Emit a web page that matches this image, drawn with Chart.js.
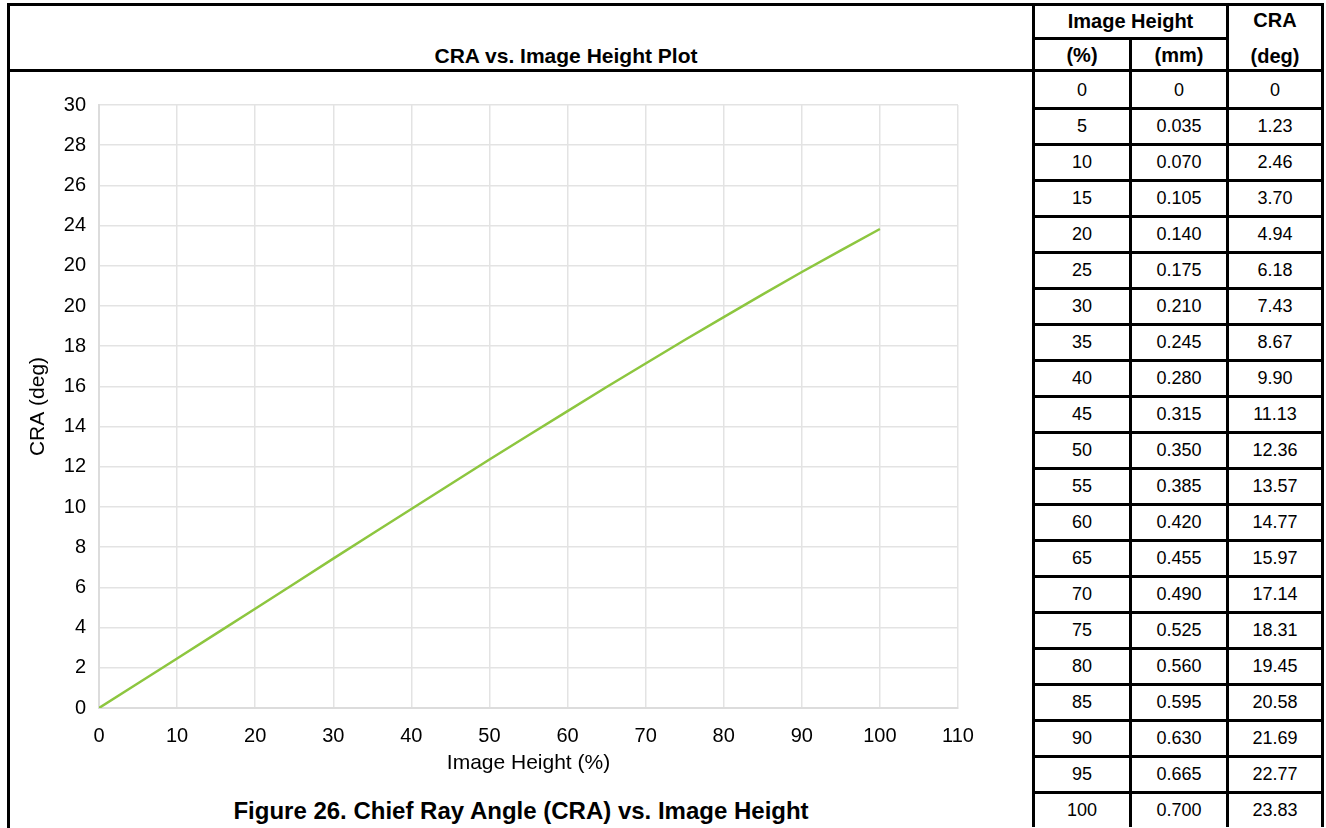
<!DOCTYPE html>
<html>
<head>
<meta charset="utf-8">
<script src="https://cdn.jsdelivr.net/npm/chart.js@4.4.1/dist/chart.umd.min.js"></script>
<style>
  body { margin: 0; background: #fff; font-family: "Liberation Sans", Arial, sans-serif; color: #000; }
  #page { position: relative; width: 1326px; height: 828px; overflow: hidden; }
  .frame { position: absolute; left: 7px; top: 3px; width: 1030px; height: 830px; border-left: 3px solid #000; border-top: 3px solid #000; box-sizing: border-box; }
  .hline { position: absolute; left: 7px; top: 69px; width: 1030px; height: 3px; background: #000; }
  .title { position: absolute; left: 366px; width: 400px; top: 44px; text-align: center; font-weight: bold; font-size: 21px; }
  .caption { position: absolute; left: 10px; width: 1022px; top: 797px; text-align: center; font-weight: bold; font-size: 24px; }
  #chart { position: absolute; left: 10px; top: 72px; }
  .cell { position: absolute; box-sizing: border-box; border-left: 3px solid #000; border-top: 3px solid #000;
          display: flex; align-items: center; justify-content: center; text-align: center; font-size: 18px; }
  .cell.last { border-right: 3px solid #000; }
  .cell.head { font-weight: bold; font-size: 20px; }
</style>
</head>
<body>
<div id="page">
  <div class="frame"></div>
  <div class="hline"></div>
  <div class="title">CRA vs. Image Height Plot</div>
  <canvas id="chart" width="1022" height="704"></canvas>
  <div class="caption">Figure 26. Chief Ray Angle (CRA) vs. Image Height</div>
  <div id="table"></div>
</div>
<script>
// table / series data
const imageHeightPct = [0, 5, 10, 15, 20, 25, 30, 35, 40, 45, 50, 55, 60, 65, 70, 75, 80, 85, 90, 95, 100];
const imageHeightMm = ['0', '0.035', '0.070', '0.105', '0.140', '0.175', '0.210', '0.245', '0.280', '0.315', '0.350',
                       '0.385', '0.420', '0.455', '0.490', '0.525', '0.560', '0.595', '0.630', '0.665', '0.700'];
const craDeg = [0, 1.23, 2.46, 3.70, 4.94, 6.18, 7.43, 8.67, 9.90, 11.13, 12.36,
                13.57, 14.77, 15.97, 17.14, 18.31, 19.45, 20.58, 21.69, 22.77, 23.83];
const craText = ['0', '1.23', '2.46', '3.70', '4.94', '6.18', '7.43', '8.67', '9.90', '11.13', '12.36',
                 '13.57', '14.77', '15.97', '17.14', '18.31', '19.45', '20.58', '21.69', '22.77', '23.83'];
// y tick labels as printed in the source (22 is printed as 20)
const yTickLabels = ['0', '2', '4', '6', '8', '10', '12', '14', '16', '18', '20', '20', '24', '26', '28', '30'];

// build the table on the right
const tbl = document.getElementById('table');
const colX = [1032, 1129, 1226];
const colW = [97, 97, 98];
function cell(txt, x, y, w, h, cls) {
  const d = document.createElement('div');
  d.className = 'cell' + (cls ? ' ' + cls : '');
  d.style.left = x + 'px'; d.style.top = y + 'px';
  d.style.width = w + 'px'; d.style.height = h + 'px';
  d.innerHTML = txt;
  tbl.appendChild(d);
}
cell('Image Height', colX[0], 3, colW[0] + colW[1], 34, 'head');
cell('<span style="line-height:36px">CRA<br>(deg)</span>', colX[2], 3, colW[2], 67, 'head last');
cell('(%)', colX[0], 37, colW[0], 33, 'head');
cell('(mm)', colX[1], 37, colW[1], 33, 'head');
imageHeightPct.forEach((p, i) => {
  const top = i === 0 ? 69 : 107 + 36 * (i - 1);
  const h = i === 0 ? 39 : 36;
  cell(String(p), colX[0], top, colW[0], h);
  cell(imageHeightMm[i], colX[1], top, colW[1], h);
  cell(craText[i], colX[2], top, colW[2], h, 'last');
});

// chart
const gridColor = '#e3e3e3';
const tickFont = { family: 'Liberation Sans', size: 20 };
const titleFont = { family: 'Liberation Sans', size: 21 };
new Chart(document.getElementById('chart'), {
  type: 'line',
  data: {
    datasets: [{
      data: imageHeightPct.map((p, i) => ({ x: p, y: craDeg[i] })),
      borderColor: '#8dc63f',
      borderWidth: 2.5,
      pointRadius: 0,
      tension: 0,
      fill: false
    }]
  },
  options: {
    responsive: false,
    animation: false,
    layout: { padding: { left: 16, right: 74, top: 33, bottom: 0 } },
    plugins: { legend: { display: false }, tooltip: { enabled: false } },
    scales: {
      x: {
        type: 'linear', min: 0, max: 110,
        ticks: { stepSize: 10, color: '#000', font: tickFont, padding: 16 },
        grid: { color: gridColor, lineWidth: 1.5, drawTicks: false },
        border: { color: '#dcdcdc', width: 2 },
        title: { display: true, text: 'Image Height (%)', color: '#000', font: titleFont, padding: 0 },
        afterFit(s) { s.height = 68; }
      },
      y: {
        type: 'linear', min: 0, max: 30,
        ticks: { stepSize: 2, color: '#000', font: tickFont, padding: 13,
                 callback: (v, i) => yTickLabels[i] },
        grid: { color: gridColor, lineWidth: 1.5, drawTicks: false },
        border: { color: '#dcdcdc', width: 2 },
        title: { display: true, text: 'CRA (deg)', color: '#000', font: titleFont, padding: 0 },
        afterFit(s) { s.width = 73; }
      }
    }
  }
});
</script>
</body>
</html>
